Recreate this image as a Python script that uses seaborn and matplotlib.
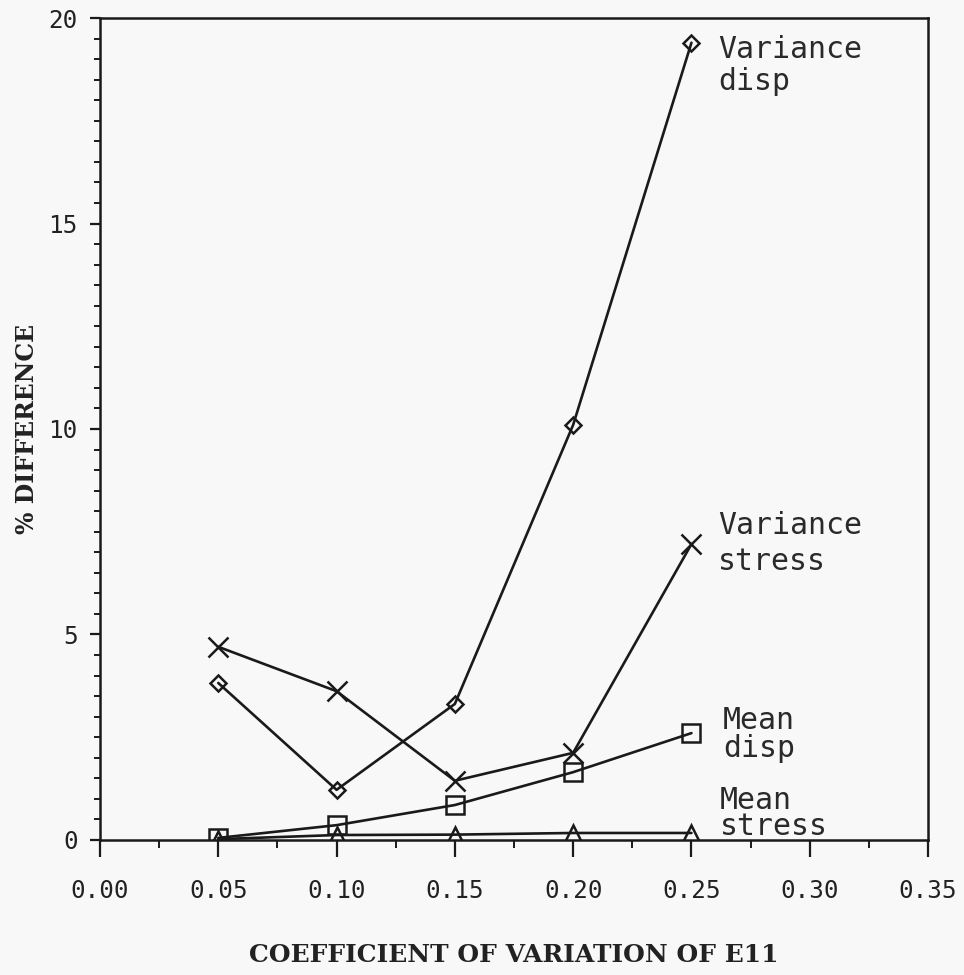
import matplotlib
matplotlib.use("Agg")
import matplotlib.pyplot as plt
from matplotlib.ticker import MultipleLocator
import seaborn as sns
import pandas as pd

# Coefficient of variation of E11 and % difference for each quantity
cov = [0.05, 0.10, 0.15, 0.20, 0.25]
variance_disp = [3.82, 1.22, 3.31, 10.1, 19.4]
variance_stress = [4.70, 3.62, 1.44, 2.12, 7.2]
mean_disp = [0.05, 0.36, 0.85, 1.65, 2.6]
mean_stress = [0.02, 0.12, 0.13, 0.17, 0.17]

series_names = ["Variance disp", "Variance stress", "Mean disp", "Mean stress"]
series_values = [variance_disp, variance_stress, mean_disp, mean_stress]
series_markers = ["D", "x", "s", "^"]
series_msize = [8, 14, 13, 12]

# Two-line curve labels at the right end of each curve (y = baseline of last line)
label_text = ["Variance\ndisp", "Variance\nstress", "Mean\ndisp", "Mean\nstress"]
label_x = [0.2612, 0.2612, 0.2634, 0.2620]
label_y = [18.25, 6.57, 2.02, 0.12]
label_spacing = [1.14, 1.30, 0.97, 0.88]

sns.set_theme(style="white")
plt.rcParams["font.family"] = ["DejaVu Sans"]

bg = "#f8f8f8"
ink = "#1a1a1a"
fig = plt.figure(figsize=(9.64, 9.75), dpi=100, facecolor=bg)
ax = fig.add_axes([0.1037, 0.1385, 0.859, 0.843])
ax.set_facecolor(bg)

frames = []
for name, vals in zip(series_names, series_values):
    frames.append(pd.DataFrame({"cov": cov, "diff": vals, "series": name}))
df = pd.concat(frames, ignore_index=True)

for name, mk, ms in zip(series_names, series_markers, series_msize):
    sub = df[df["series"] == name]
    sns.lineplot(
        data=sub, x="cov", y="diff", ax=ax, color=ink, linewidth=1.9,
        marker=mk, markersize=ms,
        markerfacecolor="none" if mk != "x" else ink,
        markeredgecolor=ink, markeredgewidth=1.8, legend=False,
    )

for txt, x, y, ls in zip(label_text, label_x, label_y, label_spacing):
    ax.text(x, y, txt, fontsize=21.5, family="DejaVu Sans Mono", color="#2a2a2a",
            va="baseline", ha="left", linespacing=ls)

ax.set_xlim(0, 0.35)
ax.set_ylim(0, 20)
ax.xaxis.set_minor_locator(MultipleLocator(0.025))
ax.yaxis.set_minor_locator(MultipleLocator(0.5))
ax.set_xticks([0, 0.05, 0.10, 0.15, 0.20, 0.25, 0.30, 0.35])
ax.set_xticklabels(["0.00", "0.05", "0.10", "0.15", "0.20", "0.25", "0.30", "0.35"],
                   family="DejaVu Sans Mono", fontsize=17.5, color="#222222")
ax.set_yticks([0, 5, 10, 15, 20])
ax.set_yticklabels(["0", "5", "10", "15", "20"],
                   family="DejaVu Sans Mono", fontsize=17.5, color="#222222")

ax.tick_params(axis="x", which="major", direction="out", length=12, width=1.6,
               pad=16, bottom=True, top=False, color=ink)
ax.tick_params(axis="x", which="minor", direction="out", length=6, width=1.4,
               bottom=True, top=False, color=ink)
ax.tick_params(axis="y", which="major", direction="out", length=7, width=1.6,
               pad=9, left=True, right=False, color=ink)
ax.tick_params(axis="y", which="minor", direction="out", length=4, width=1.4,
               left=True, right=False, color=ink)

for sp in ax.spines.values():
    sp.set_visible(True)
    sp.set_color(ink)
    sp.set_linewidth(1.8)

ax.set_xlabel("COEFFICIENT OF VARIATION OF E11", family="DejaVu Serif",
              fontweight="bold", fontsize=18, color="#222222")
ax.set_ylabel("% DIFFERENCE", family="DejaVu Serif", fontweight="bold",
              fontsize=17, color="#222222")
ax.xaxis.set_label_coords(0.5, -0.125)
ax.yaxis.set_label_coords(-0.074, 0.5)

fig.savefig("out.png", dpi=100, facecolor=bg)
